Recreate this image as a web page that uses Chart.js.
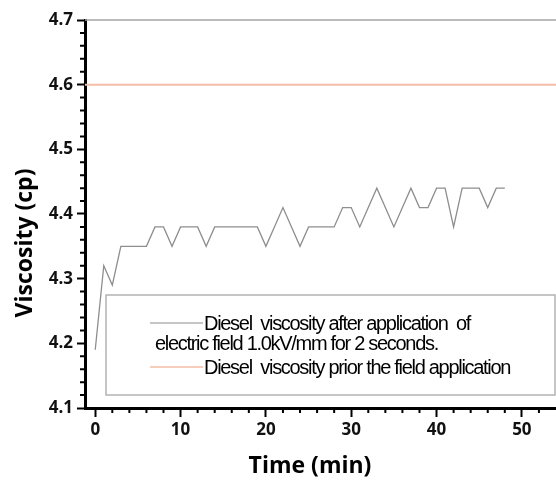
<!DOCTYPE html>
<html>
<head>
<title>Diesel viscosity</title>
<script src="https://cdn.jsdelivr.net/npm/chart.js"></script>
<style>
  body { margin: 0; background: #fff; }
  #wrap { width: 556px; height: 481px; }
</style>
</head>
<body>
<div id="wrap"><canvas id="chartLine"></canvas></div>
<script>
  // dados
  var tempos = [0, 1, 2, 3, 4, 5, 6, 7, 8, 9, 10, 11, 12, 13, 14, 15, 16, 17, 18, 19, 20, 21, 22, 23, 24,
    25, 26, 27, 28, 29, 30, 31, 32, 33, 34, 35, 36, 37, 38, 39, 40, 41, 42, 43, 44, 45, 46, 47, 48];
  var viscApos = [4.19, 4.32, 4.29, 4.35, 4.35, 4.35, 4.35, 4.38, 4.38, 4.35, 4.38, 4.38, 4.38, 4.35,
    4.38, 4.38, 4.38, 4.38, 4.38, 4.38, 4.35, 4.38, 4.41, 4.38, 4.35, 4.38, 4.38, 4.38, 4.38, 4.41,
    4.41, 4.38, 4.41, 4.44, 4.41, 4.38, 4.41, 4.44, 4.41, 4.41, 4.44, 4.44, 4.38, 4.44, 4.44, 4.44,
    4.41, 4.44, 4.44];
  var viscAntes = 4.6;
  var xMin = -1.2, xMax = 54;
  var yMin = 4.1, yMax = 4.7;
  var ticksX = [0, 10, 20, 30, 40, 50];
  var ticksY = [4.1, 4.2, 4.3, 4.4, 4.5, 4.6, 4.7];
  var legendaApos = ["Diesel  viscosity after application  of", "electric field 1.0kV/mm for 2 seconds."];
  var legendaAntes = ["Diesel  viscosity prior the field application"];

  var corApos = "#8e8e8e";
  var corAntes = "#f5bca6";

  // ticks menores, moldura, titulos e legenda
  var extras = {
    id: "extras",
    afterDraw: function (chart) {
      var ctx = chart.ctx;
      var a = chart.chartArea;
      var sx = chart.scales.x, sy = chart.scales.y;
      ctx.save();
      // linha de cima
      ctx.strokeStyle = "#a5a5a5";
      ctx.lineWidth = 1.5;
      ctx.beginPath();
      ctx.moveTo(a.left, a.top);
      ctx.lineTo(a.right, a.top);
      ctx.stroke();
      // ticks menores
      ctx.strokeStyle = "#000";
      ctx.lineWidth = 2;
      ctx.beginPath();
      for (var v = 2; v < xMax; v += 2) {
        if (v % 10 == 0) continue;
        var px = sx.getPixelForValue(v);
        ctx.moveTo(px, a.bottom);
        ctx.lineTo(px, a.bottom + 5);
      }
      for (var k = 1; k < 30; k++) {
        if (k % 5 == 0) continue;
        var py = sy.getPixelForValue(yMin + k * 0.02);
        ctx.moveTo(a.left, py);
        ctx.lineTo(a.left - 5, py);
      }
      ctx.stroke();
      // titulos dos eixos
      ctx.fillStyle = "#000";
      ctx.font = "bold 23px 'Open Sans'";
      ctx.textAlign = "center";
      ctx.textBaseline = "middle";
      ctx.fillText("Time (min)", 310, 466);
      ctx.translate(25, 243);
      ctx.rotate(-Math.PI / 2);
      ctx.fillText("Viscosity (cp)", 0, 0);
      ctx.restore();

      // legenda
      ctx.save();
      ctx.strokeStyle = "#b3b3b3";
      ctx.lineWidth = 1.5;
      ctx.strokeRect(106, 295, 449, 100);
      ctx.lineWidth = 1.2;
      ctx.strokeStyle = chart.data.datasets[0].borderColor;
      ctx.beginPath(); ctx.moveTo(150, 323); ctx.lineTo(203, 323); ctx.stroke();
      ctx.strokeStyle = chart.data.datasets[1].borderColor;
      ctx.lineWidth = 1.5;
      ctx.beginPath(); ctx.moveTo(150, 367); ctx.lineTo(203, 367); ctx.stroke();
      ctx.fillStyle = "#000";
      ctx.font = "20px 'Liberation Sans Narrow', 'Liberation Sans'";
      ctx.letterSpacing = "-1.3px";
      ctx.textAlign = "left";
      ctx.textBaseline = "middle";
      ctx.fillText(legendaApos[0], 204, 324);
      ctx.fillText(legendaApos[1], 155, 344);
      ctx.fillText(legendaAntes[0], 204, 368);
      ctx.restore();
    }
  };

  var dados = {
    datasets: [
      {
        label: legendaApos.join(" "),
        data: tempos.map(function (t, i) { return { x: t, y: viscApos[i] }; }),
        borderColor: corApos,
        borderWidth: 1.3,
        pointRadius: 0,
        tension: 0
      },
      {
        label: legendaAntes[0],
        data: [{ x: xMin, y: viscAntes }, { x: xMax, y: viscAntes }],
        borderColor: corAntes,
        borderWidth: 2,
        pointRadius: 0,
        tension: 0
      }
    ]
  };

  var config = {
    type: "line",
    data: dados,
    options: {
      responsive: true,
      maintainAspectRatio: false,
      animation: false,
      layout: { padding: { top: 20, right: 0, left: 0, bottom: 0 } },
      plugins: { legend: { display: false }, tooltip: { enabled: false } },
      scales: {
        x: {
          type: "linear",
          min: xMin,
          max: xMax,
          afterBuildTicks: function (s) { s.ticks = ticksX.map(function (v) { return { value: v }; }); },
          afterFit: function (s) { s.height = 73; },
          border: { color: "#000", width: 3 },
          grid: { drawOnChartArea: false, drawTicks: true, tickLength: 9, tickWidth: 2, tickColor: "#000" },
          ticks: { color: "#111", font: { family: "'Open Sans'", weight: "bold", size: 17 }, padding: 3, maxRotation: 0 }
        },
        y: {
          type: "linear",
          min: yMin,
          max: yMax,
          afterBuildTicks: function (s) { s.ticks = ticksY.map(function (v) { return { value: v }; }); },
          afterFit: function (s) { s.width = 85; },
          border: { color: "#000", width: 3 },
          grid: { drawOnChartArea: false, drawTicks: true, tickLength: 8, tickWidth: 2, tickColor: "#000" },
          ticks: {
            color: "#111",
            font: { family: "'Open Sans'", weight: "bold", size: 17 },
            padding: 4,
            callback: function (v) { return Number(v).toFixed(1); }
          }
        }
      }
    },
    plugins: [extras]
  };

  var grafico = new Chart(document.getElementById("chartLine"), config);
</script>
</body>
</html>
